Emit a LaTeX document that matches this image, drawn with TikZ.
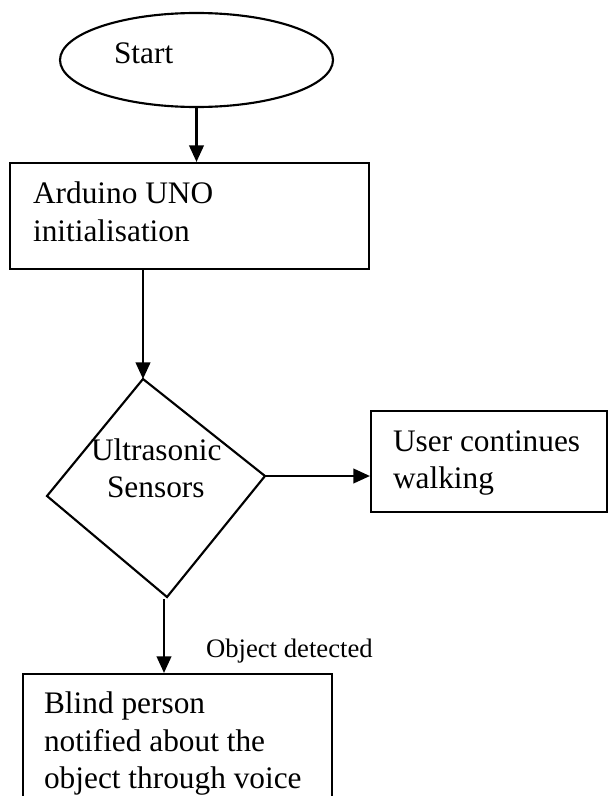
\documentclass[tikz,border=0pt]{standalone}
\usepackage{fontspec}
\setmainfont{Liberation Serif}
\usetikzlibrary{shapes.geometric,arrows.meta,fit}
\begin{document}
\begin{tikzpicture}[x=0.75pt,y=-0.75pt,
  line width=1.6pt,
  shapeline/.style={draw=black,line width=1.6pt},
  box/.style={shapeline,inner sep=0pt},
  txt/.style={anchor=base west,inner sep=0pt,font=\fontsize{23.5pt}{28pt}\selectfont},
  small/.style={anchor=base west,inner sep=0pt,font=\fontsize{20pt}{24pt}\selectfont},
  arr/.style={draw=black,line width=1.6pt,-{Triangle[length=12.5pt,width=11pt]}}]
\clip (0,0) rectangle (608,796);
\fill[white] (0,0) rectangle (608,796);
% Start ellipse
\node[ellipse,shapeline,minimum width=204.75pt,minimum height=70.5pt,inner sep=0pt] (start) at (196.5,60) {};
\node[txt] (starttxt) at (113,63) {Start};
% Init box
\node[box,fit={(10,163) (369,269)}] (init) {};
\node[txt] (init1) at (32,203) {Arduino UNO};
\node[txt] (init2) at (32,241) {initialisation};
% Diamond
\coordinate (dtop) at (143,379);
\coordinate (dright) at (265,476);
\coordinate (dbot) at (167,597);
\coordinate (dleft) at (47,496);
\draw[shapeline,line join=miter] (dtop) -- (dright) -- (dbot) -- (dleft) -- cycle;
\node[txt] (sens1) at (90,460) {Ultrasonic};
\node[txt] (sens2) at (106,497) {Sensors};
% User continues box
\node[box,fit={(371,411) (607,512)}] (walk) {};
\node[txt] (walk1) at (392,451) {User continues};
\node[txt] (walk2) at (392,488) {walking};
% Notify box
\node[box,fit={(23,674) (332,830)}] (notify) {};
\node[txt] (not1) at (43,713) {Blind person};
\node[txt] (not2) at (43,751) {notified about the};
\node[txt] (not3) at (43,788) {object through voice};
% Label
\node[small] (objdet) at (205,657) {Object detected};
% Connectors
\coordinate (a1s) at (start.south);
\draw[arr] (start.south) -- (init.north -| a1s);
\coordinate (a2s) at (143,269);
\draw[arr] (a2s) -- (dtop);
\draw[arr] (dright) -- (walk.west |- dright);
\coordinate (a4s) at (164,599);
\draw[arr] (a4s) -- (notify.north -| a4s);
\end{tikzpicture}
\end{document}
